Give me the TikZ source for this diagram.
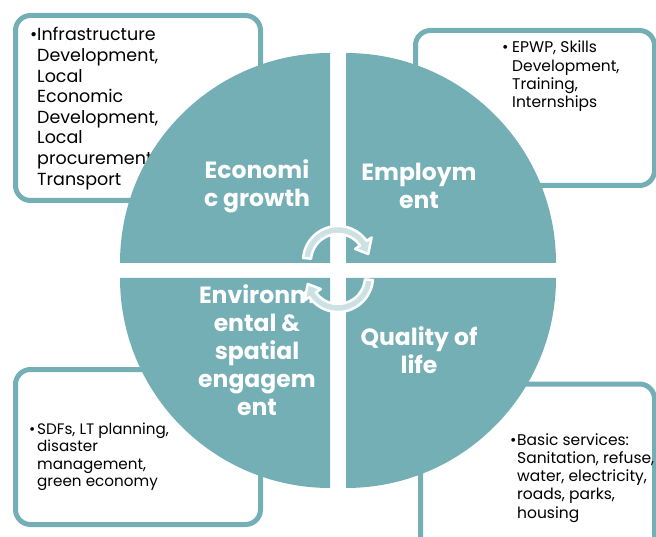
\documentclass[tikz,border=0pt]{standalone}
\usepackage{fontspec}
\setmainfont{Poppins}
\usetikzlibrary{positioning}
\definecolor{teal1}{RGB}{116,175,182}
\definecolor{arrowfill}{RGB}{204,225,228}
\newcommand{\bitem}[2]{\begin{tabular}[t]{@{}p{#1}@{}l@{}}\textbullet & #2\end{tabular}}

\begin{document}
\begin{tikzpicture}
    [x=1pt, y=-1pt,
    panel/.style={draw=teal1, line width=5pt, fill=white, rounded corners=15pt, inner sep=0pt},
    quarter/.style={fill=teal1},
    qlabel/.style={text=white, align=center, inner sep=0pt, font=\fontsize{23.5}{28}\selectfont\bfseries},
    btext/.style={anchor=base west, inner sep=0pt, text=black},
    circarrow/.style={fill=arrowfill, draw=white, line width=2.5pt, line join=round}]
    \useasboundingbox (0,0) rectangle (656,537);
    \clip (0,0) rectangle (656,537);
    % outer boxes
    \node [panel, minimum width=245pt, minimum height=185pt] (boxEG) at (138,108) {};
    \node [panel, minimum width=239pt, minimum height=155pt] (boxEM) at (535,108) {};
    \node [panel, minimum width=245pt, minimum height=155pt] (boxEN) at (138,447) {};
    \node [panel, minimum width=234pt, minimum height=176pt] (boxQL) at (537.5,472) {};
    \node [btext, font=\fontsize{17.5}{20.6}\selectfont] (listEG) at (30,41)
        {\bitem{7pt}{Infrastructure\\ & Development,\\ & Local\\ & Economic\\ & Development,\\ & Local\\ & procurement,\\ & Transport}};
    \node [btext, font=\fontsize{15.5}{18.3}\selectfont] (listEM) at (502,53)
        {\bitem{10pt}{EPWP, Skills\\ & Development,\\ & Training,\\ & Internships}};
    \node [btext, font=\fontsize{15.2}{17.5}\selectfont] (listEN) at (29,434)
        {\bitem{8pt}{SDFs, LT planning,\\ & disaster\\ & management,\\ & green economy}};
    \node [btext, font=\fontsize{15.5}{18.3}\selectfont] (listQL) at (510,445)
        {\bitem{7pt}{Basic services:\\ & Sanitation, refuse,\\ & water, electricity,\\ & roads, parks,\\ & housing}};
    % circle in four quarters
    \fill [quarter] (330,263) -- ++(-210,0) arc[start angle=180, end angle=270, radius=210] -- cycle;
    \fill [quarter] (346,263) -- ++(0,-210) arc[start angle=270, end angle=360, radius=210] -- cycle;
    \fill [quarter] (346,278) -- ++(210,0) arc[start angle=0, end angle=90, radius=210] -- cycle;
    \fill [quarter] (330,278) -- ++(0,210) arc[start angle=90, end angle=180, radius=210] -- cycle;
    \node [qlabel] (growth) at (257,186) {Economi\\c growth};
    \node [qlabel] (employ) at (419,186) {Employm\\ent};
    \node [qlabel] (environ) at (257,350) {Environm\\ental \&\\spatial\\engagem\\ent};
    \node [qlabel] (quality) at (419,350) {Quality of\\life};
    % circular arrows
    \coordinate (hubT) at (338,261);
    \coordinate (hubB) at (338,277);
    \filldraw [circarrow] ([shift={(hubT)}]185:35) arc[start angle=185, end angle=325, radius=35]
        -- ([shift={(hubT)}]325:41) -- ([shift={(hubT)}]347:31) -- ([shift={(hubT)}]325:21)
        -- ([shift={(hubT)}]325:27) arc[start angle=325, end angle=185, radius=27] -- cycle;
    \filldraw [circarrow] ([shift={(hubB)}]5:35) arc[start angle=5, end angle=145, radius=35]
        -- ([shift={(hubB)}]145:41) -- ([shift={(hubB)}]167:31) -- ([shift={(hubB)}]145:21)
        -- ([shift={(hubB)}]145:27) arc[start angle=145, end angle=5, radius=27] -- cycle;
\end{tikzpicture}
\end{document}
